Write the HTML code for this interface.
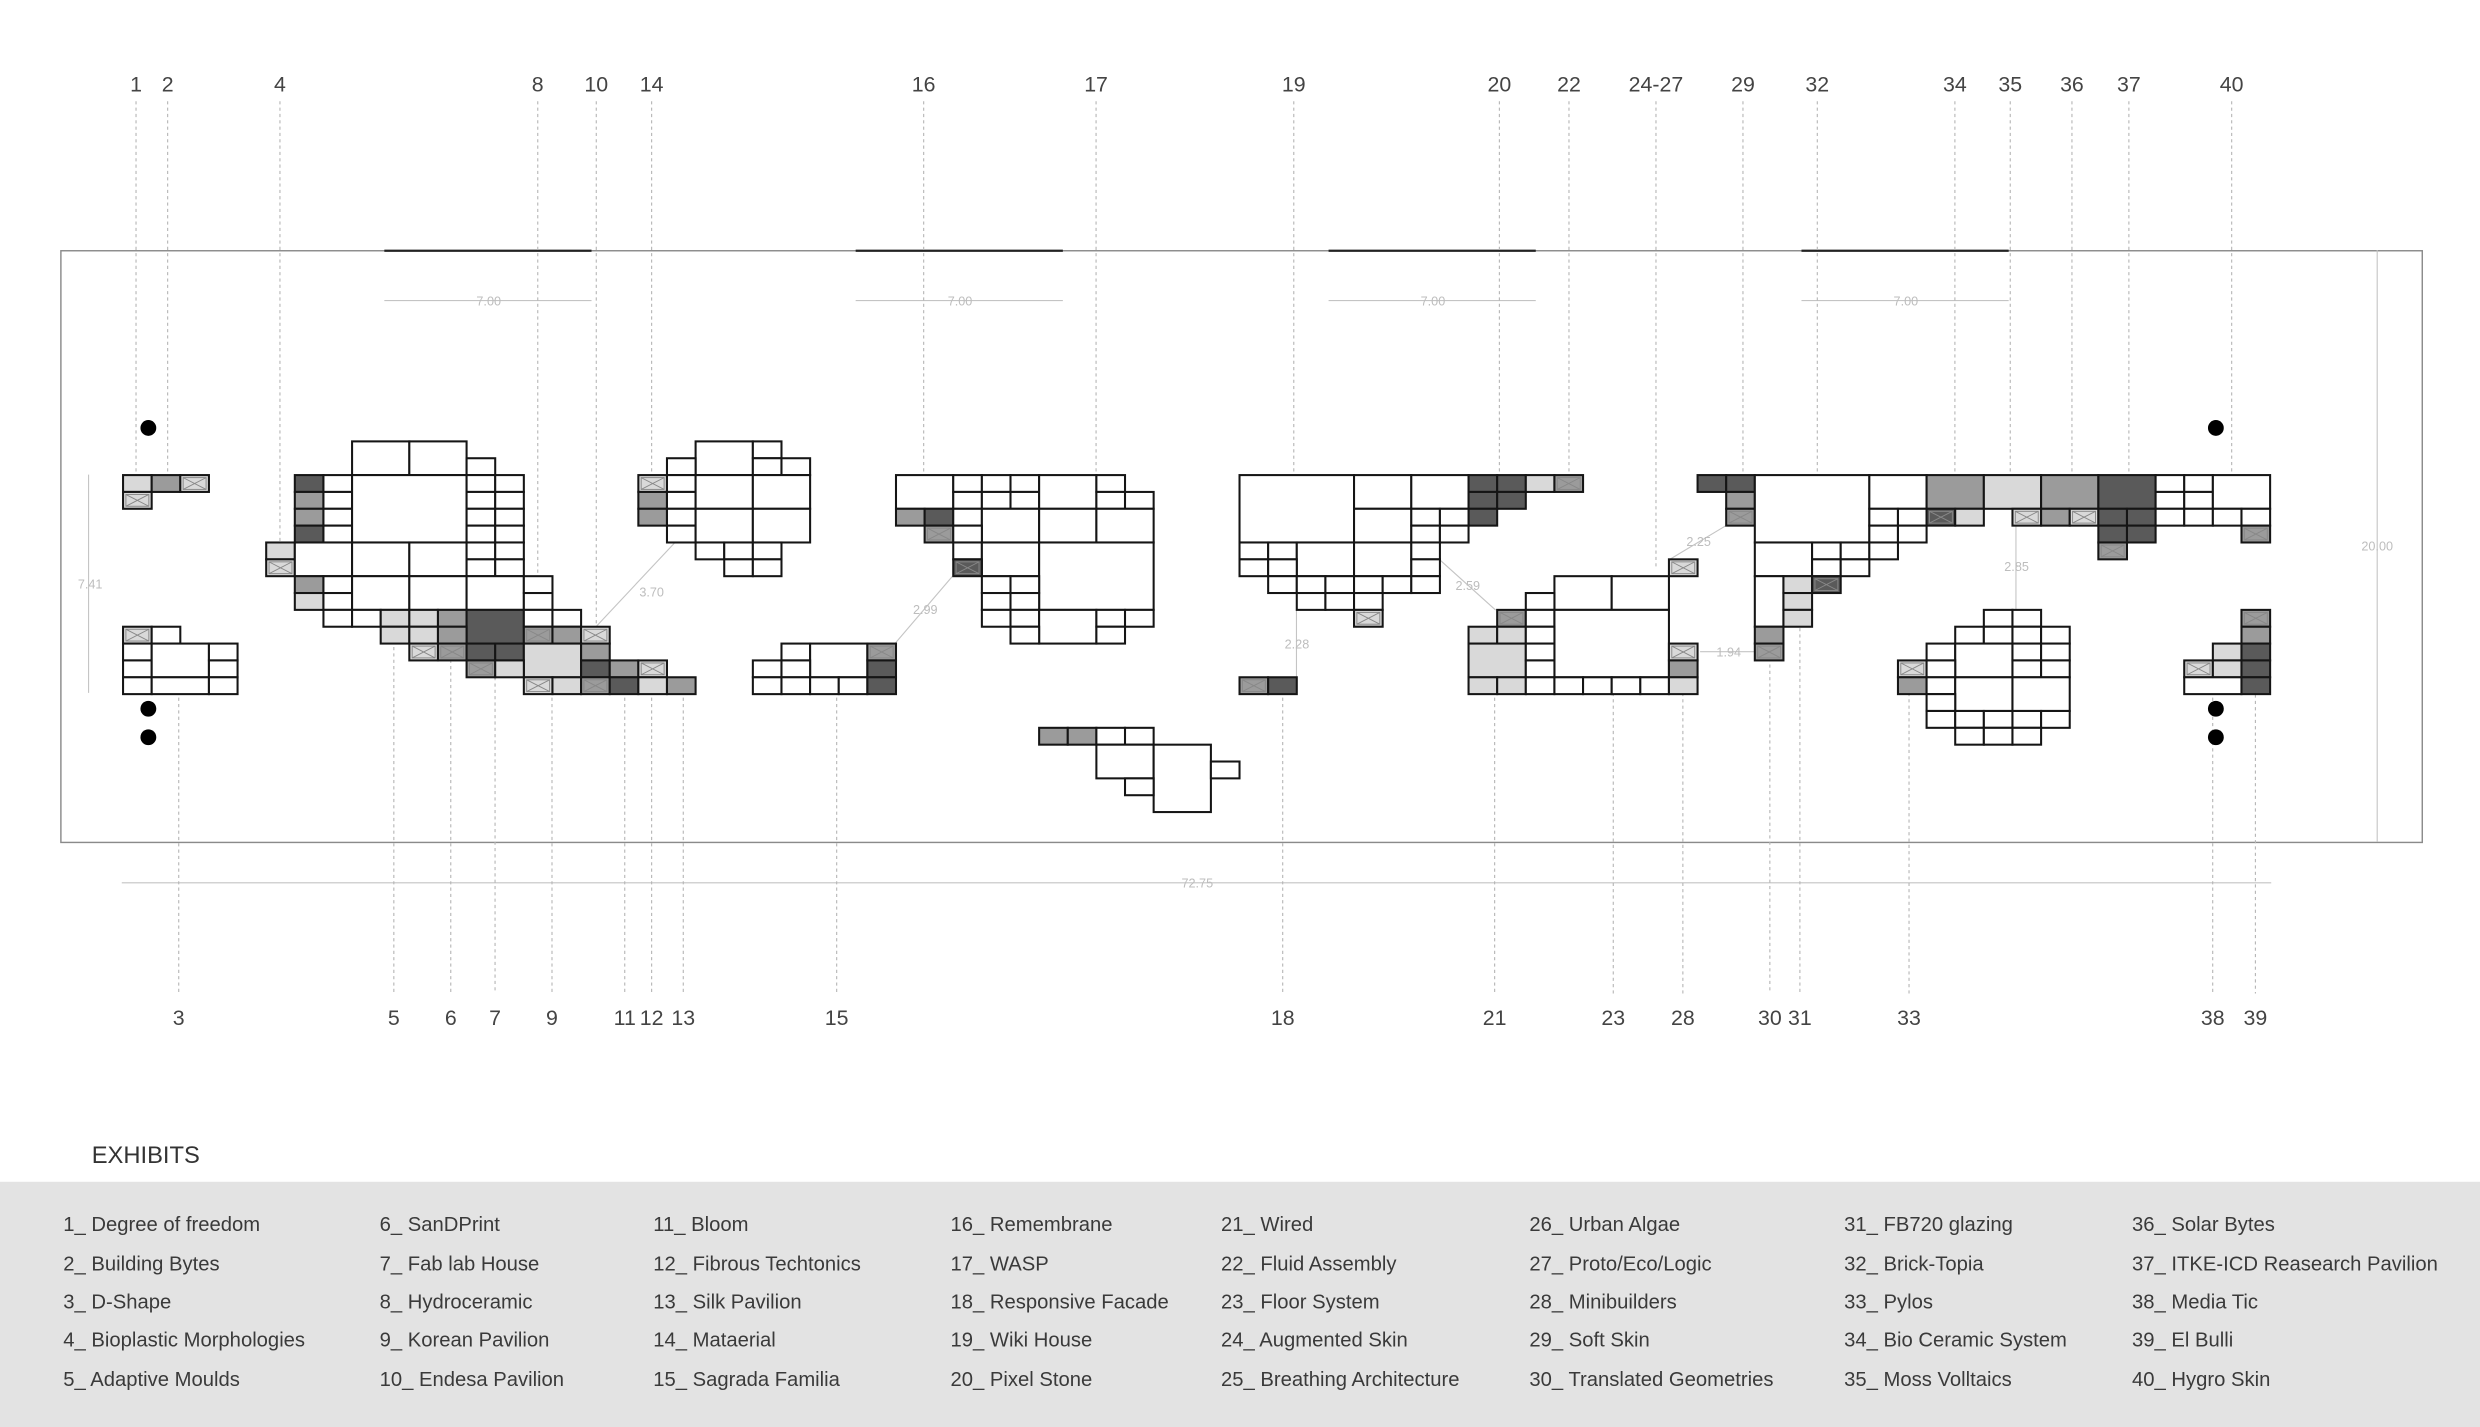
<!DOCTYPE html>
<html><head><meta charset="utf-8">
<style>
html,body{margin:0;padding:0;background:#fff;}
svg{display:block;}
.t{font-family:"Liberation Sans",sans-serif;fill:#444;}
</style></head>
<body>
<svg id="s" width="2480" height="1427" viewBox="0 0 1568 902" preserveAspectRatio="none" xmlns="http://www.w3.org/2000/svg">
<rect x="0" y="0" width="1568" height="902" fill="#fff"/>
<rect x="0" y="747" width="1568" height="155" fill="#e3e3e3"/>
<rect x="38.5" y="158.5" width="1493" height="374" fill="none" stroke="#8a8a8a" stroke-width="0.9"/>
<g stroke="#222" stroke-width="1.4">
<line x1="243" y1="158.5" x2="374" y2="158.5"/><line x1="541" y1="158.5" x2="672" y2="158.5"/>
<line x1="840" y1="158.5" x2="971" y2="158.5"/><line x1="1139" y1="158.5" x2="1270" y2="158.5"/>
</g>
<g id="dims" stroke="#c4c4c4" stroke-width="0.7" fill="none">
<line x1="243" y1="190" x2="374" y2="190"/><line x1="541" y1="190" x2="672" y2="190"/>
<line x1="840" y1="190" x2="971" y2="190"/><line x1="1139" y1="190" x2="1270" y2="190"/>
<line x1="56" y1="300" x2="56" y2="438"/>
<line x1="1503" y1="158" x2="1503" y2="532"/>
<line x1="77" y1="558" x2="1436" y2="558"/>
<line x1="376" y1="397" x2="437" y2="332"/>
<line x1="566" y1="406.6" x2="602" y2="364.5"/>
<line x1="819.7" y1="385.6" x2="819.7" y2="427.7"/>
<line x1="909.8" y1="353.4" x2="945.6" y2="385.6"/>
<line x1="1055.7" y1="353.6" x2="1091.2" y2="332.3"/>
<line x1="1074.9" y1="411.9" x2="1111.2" y2="411.9"/>
<line x1="1274.6" y1="332.3" x2="1274.6" y2="385.6"/>
</g>
<g class="t" style="fill:#bdbdbd" font-size="8" text-anchor="middle">
<text x="309" y="193">7.00</text><text x="607" y="193">7.00</text><text x="906" y="193">7.00</text><text x="1205" y="193">7.00</text>
<text x="57" y="372">7.41</text><text x="1503" y="348">20.00</text><text x="757" y="561">72.75</text>
<text x="412" y="377">3.70</text><text x="585" y="388">2.99</text><text x="820" y="410">2.28</text>
<text x="928" y="373">2.59</text><text x="1074" y="345">2.25</text><text x="1093" y="415">1.94</text><text x="1275" y="361">2.85</text>
</g>
<g id="leaders" stroke="#b5b5b5" stroke-width="0.7" stroke-dasharray="2,2"></g>
<g id="cells"></g>
<g fill="#000">
<circle cx="93.8" cy="270.5" r="5"/><circle cx="93.8" cy="448" r="5"/><circle cx="93.8" cy="466" r="5"/>
<circle cx="1401" cy="270.5" r="5"/><circle cx="1401" cy="448" r="5"/><circle cx="1401" cy="466" r="5"/>
</g>
<g id="labels" class="t" font-size="13.5" text-anchor="middle"></g>
<text class="t" x="58" y="735" font-size="15" style="fill:#333">EXHIBITS</text>
<g id="ex" class="t" font-size="12.8" style="fill:#3a3a3a"></g>
</svg>
<script>
(function(){
var NS="http://www.w3.org/2000/svg";
function el(p,n,a,t){var e=document.createElementNS(NS,n);for(var k in a)e.setAttribute(k,a[k]);if(t!=null)e.textContent=t;p.appendChild(e);return e;}
var W=18.1,H=10.65,X0=77.8,Y0=300.3;
var F={w:"#fff",l:"#d9d9d9",m:"#9b9b9b",d:"#5a5a5a"};
var spec=
"0,0,l;1,0,m;2,0,xl;0,1,xl;"+
"0,9,xl;1,9,w;0,10,w;0,11,w;0,12,w;1,10,2,2,w;3,10,w;3,11,w;1,12,2,1,w;3,12,w;"+
"8,-2,2,2,w;10,-2,2,2,w;12,-1,w;6,0,d;6,1,m;6,2,m;6,3,d;7,0,w;7,1,w;7,2,w;7,3,w;8,0,4,4,w;12,0,w;12,1,w;12,2,w;12,3,w;13,0,w;13,1,w;13,2,w;13,3,w;"+
"5,4,l;5,5,xl;6,4,2,2,w;8,4,2,2,w;10,4,2,2,w;12,4,w;12,5,w;13,4,w;13,5,w;"+
"6,6,m;6,7,l;7,6,w;7,7,w;8,6,2,2,w;10,6,2,2,w;12,6,2,2,w;14,6,w;14,7,w;"+
"7,8,w;8,8,w;9,8,l;10,8,l;11,8,m;12,8,2,2,d;14,8,w;15,8,w;"+
"9,9,l;10,9,l;11,9,m;14,9,xm;15,9,m;16,9,xl;"+
"10,10,xl;11,10,xm;12,10,d;13,10,d;14,10,2,2,l;16,10,m;"+
"12,11,xm;13,11,l;16,11,d;17,11,m;18,11,xl;"+
"14,12,xl;15,12,l;16,12,xm;17,12,d;18,12,l;19,12,m;"+
"20,-2,2,2,w;22,-2,w;19,-1,w;22,-1,w;23,-1,w;18,0,xl;18,1,m;18,2,m;19,0,w;19,1,w;19,2,w;19,3,w;20,0,2,2,w;22,0,2,2,w;20,2,2,2,w;22,2,2,2,w;20,4,w;21,4,w;22,4,w;21,5,w;22,5,w;"+
"23,10,w;24,10,2,2,w;26,10,xm;22,11,w;23,11,w;26,11,d;22,12,w;23,12,w;24,12,w;25,12,w;26,12,d;"+
"27,0,2,2,w;29,0,w;30,0,w;31,0,w;29,1,w;30,1,w;31,1,w;32,0,2,2,w;34,0,w;34,1,w;35,1,w;27,2,m;28,2,d;29,2,w;30,2,2,2,w;32,2,2,2,w;34,2,2,2,w;28,3,xm;29,3,w;29,4,w;30,4,2,2,w;32,4,4,4,w;29,5,xd;30,6,w;31,6,w;30,7,w;31,7,w;30,8,w;31,8,w;32,8,2,2,w;34,8,w;35,8,w;31,9,w;34,9,w;"+
"32,15,m;33,15,m;34,15,w;35,15,w;34,16,2,2,w;36,16,2,4,w;38,17,w;35,18,w;"+
"39,0,4,4,w;43,0,2,2,w;45,0,2,2,w;47,0,d;48,0,d;49,0,l;50,0,xm;47,1,d;48,1,d;47,2,d;43,2,2,2,w;45,2,w;46,2,w;45,3,w;46,3,w;39,4,w;40,4,w;41,4,2,2,w;43,4,2,2,w;45,4,w;39,5,w;40,5,w;45,5,w;40,6,w;41,6,w;42,6,w;43,6,w;44,6,w;45,6,w;41,7,w;42,7,w;43,7,w;43,8,xl;"+
"39,12,xm;40,12,d;"+
"54,5,xl;50,6,2,2,w;52,6,2,2,w;49,7,w;48,8,xm;49,8,w;50,8,4,4,w;47,9,l;48,9,l;49,9,w;47,10,2,2,l;49,10,w;54,10,xl;49,11,w;54,11,m;47,12,l;48,12,l;49,12,w;50,12,w;51,12,w;52,12,w;53,12,w;54,12,l;"+
"55,0,d;56,0,d;56,1,m;56,2,xm;57,0,4,4,w;61,0,2,2,w;63,0,2,2,m;65,0,2,2,l;67,0,2,2,m;69,0,2,2,d;71,0,w;72,0,w;71,1,w;72,1,w;73,0,2,2,w;"+
"61,2,w;62,2,w;63,2,xd;64,2,l;66,2,xl;67,2,m;68,2,xl;69,2,d;70,2,d;71,2,w;72,2,w;73,2,w;74,2,w;"+
"61,3,w;62,3,w;69,3,d;70,3,d;74,3,xm;69,4,xm;"+
"57,4,2,2,w;59,4,w;60,4,w;61,4,w;59,5,w;60,5,w;57,6,1,3,w;58,6,l;59,6,xd;58,7,l;58,8,l;57,9,m;57,10,xm;"+
"65,8,w;66,8,w;64,9,w;65,9,w;66,9,w;67,9,w;63,10,w;64,10,2,2,w;66,10,w;67,10,w;62,11,xl;63,11,w;66,11,w;67,11,w;62,12,m;63,12,w;64,12,2,2,w;66,12,2,2,w;63,13,w;63,14,w;64,14,w;65,14,w;66,14,w;67,14,w;64,15,w;65,15,w;66,15,w;"+
"74,8,xm;74,9,m;73,10,l;74,10,d;72,11,xl;73,11,l;74,11,d;72,12,2,1,w;74,12,d";
var g=document.getElementById("cells");
spec.split(";").forEach(function(s){
 var p=s.split(","),c=+p[0],r=+p[1],w=1,h=1,t;
 if(p.length==3)t=p[2];else{w=+p[2];h=+p[3];t=p[4];}
 var x=X0+c*W,y=Y0+r*H,ww=w*W,hh=h*H,cr=t[0]=="x",f=cr?F[t[1]]:F[t];
 el(g,"rect",{x:x,y:y,width:ww,height:hh,fill:f,stroke:"#151515","stroke-width":1.3});
 if(cr){
  el(g,"rect",{x:x+1.8,y:y+1.6,width:ww-3.6,height:hh-3.2,fill:"none",stroke:"#888","stroke-width":0.6});
  el(g,"path",{d:"M"+(x+1.8)+" "+(y+1.6)+"L"+(x+ww-1.8)+" "+(y+hh-1.6)+"M"+(x+ww-1.8)+" "+(y+1.6)+"L"+(x+1.8)+" "+(y+hh-1.6),stroke:"#888","stroke-width":0.6,fill:"none"});
 }
});
var topL=[["1",86,305],["2",106,305],["4",177,350],["8",340,396],["10",377,396],["14",412,305],["16",584,310],["17",693,363],["19",818,320],["20",948,305],["22",992,305],["24-27",1047,358],["29",1102,305],["32",1149,320],["34",1236,310],["35",1271,310],["36",1310,310],["37",1346,340],["40",1411,310]];
var botL=[["3",113,417],["5",249,405],["6",285,405],["7",313,396],["9",349,417],["11",395,433],["12",412,433],["13",432,433],["15",529,417],["18",811,433],["21",945,417],["23",1020,406],["28",1064,422],["30",1119,412],["31",1138,385],["33",1207,422],["38",1399,433],["39",1426,427]];
var L=document.getElementById("leaders"),lb=document.getElementById("labels");
topL.forEach(function(a){el(L,"line",{x1:a[1],y1:64,x2:a[1],y2:a[2]});el(lb,"text",{x:a[1],y:58},a[0]);});
botL.forEach(function(a){el(L,"line",{x1:a[1],y1:a[2],x2:a[1],y2:628});el(lb,"text",{x:a[1],y:648},a[0]);});
var ex=[
["1_ Degree of freedom","2_ Building Bytes","3_ D-Shape","4_ Bioplastic Morphologies","5_ Adaptive Moulds"],
["6_ SanDPrint","7_ Fab lab House","8_ Hydroceramic","9_ Korean Pavilion","10_ Endesa Pavilion"],
["11_ Bloom","12_ Fibrous Techtonics","13_ Silk Pavilion","14_ Mataerial","15_ Sagrada Familia"],
["16_ Remembrane","17_ WASP","18_ Responsive Facade","19_ Wiki House","20_ Pixel Stone"],
["21_ Wired","22_ Fluid Assembly","23_ Floor System","24_ Augmented Skin","25_ Breathing Architecture"],
["26_ Urban Algae","27_ Proto/Eco/Logic","28_ Minibuilders","29_ Soft Skin","30_ Translated Geometries"],
["31_ FB720 glazing","32_ Brick-Topia","33_ Pylos","34_ Bio Ceramic System","35_ Moss Volltaics"],
["36_ Solar Bytes","37_ ITKE-ICD Reasearch Pavilion","38_ Media Tic","39_ El Bulli","40_ Hygro Skin"]];
var xs=[40,240,413,601,772,967,1166,1348],ys=[778,803,827,851,876];
var E=document.getElementById("ex");
ex.forEach(function(col,i){col.forEach(function(t,j){el(E,"text",{x:xs[i],y:ys[j]},t);});});
})();
</script>
</body></html>
